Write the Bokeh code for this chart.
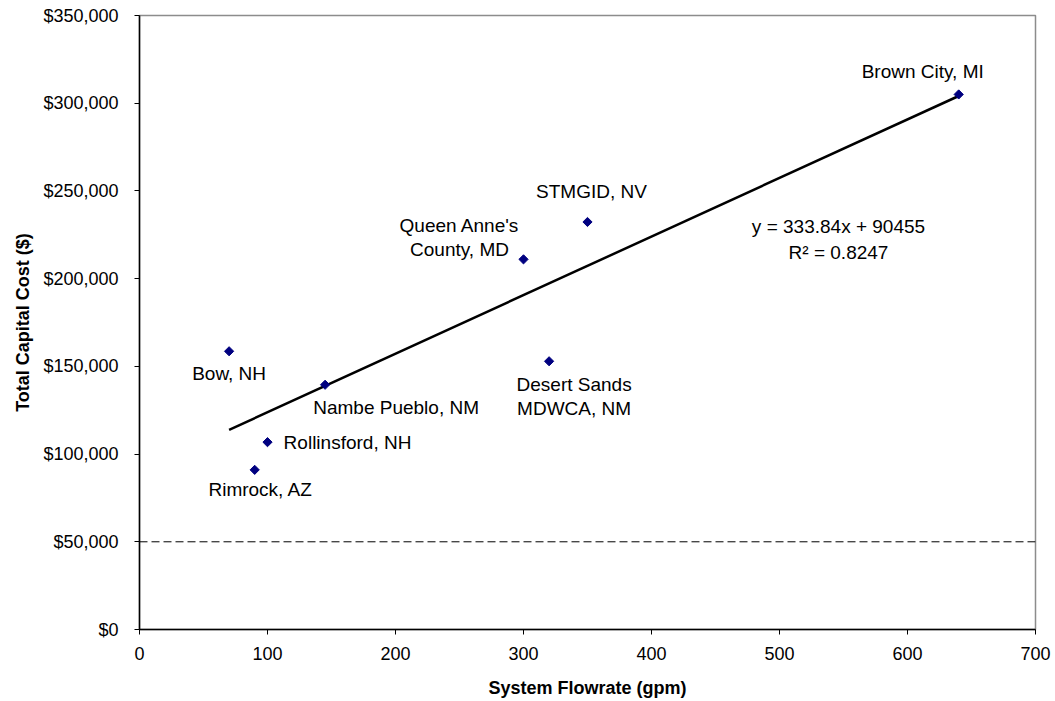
import math
from bokeh.plotting import figure
from bokeh.models import ColumnDataSource, Span, Label, FixedTicker, CustomJSTickFormatter, Range1d
from bokeh.embed import file_html
from bokeh.resources import INLINE
from bokeh.core.properties import value

# ---- data ----
sites = ["Bow, NH", "Nambe Pueblo, NM", "Rollinsford, NH", "Rimrock, AZ",
         "Desert Sands\nMDWCA, NM", "Queen Anne's\nCounty, MD", "STMGID, NV", "Brown City, MI"]
flow_gpm = [70, 145, 100, 90, 320, 300, 350, 640]
capital_cost = [158600, 139500, 106800, 91000, 152900, 211000, 232300, 305000]
slope = 333.84
intercept = 90455
r_squared = 0.8247
limit_cost = 50000
x_ticks = [0, 100, 200, 300, 400, 500, 600, 700]
y_ticks = [0, 50000, 100000, 150000, 200000, 250000, 300000, 350000]

# label offsets (screen px, y down) - layout only
lab_dx = [0, 71, 80, 6, 25, -64, 4, -36]
lab_dy = [22, 23, 0, 20, 35, -22, -30, -23]

FONT = "Liberation Sans"

p = figure(width=1055, height=701, frame_width=896, frame_height=614,
           min_border_left=139, min_border_right=20, min_border_top=15, min_border_bottom=72,
           x_range=Range1d(0, 700), y_range=Range1d(0, 350000),
           output_backend="svg", toolbar_location=None,
           background_fill_color="white", border_fill_color="white")
p.xgrid.visible = False
p.ygrid.visible = False
p.outline_line_color = "#8c8c8c"
p.outline_line_width = 1.5

for ax in (p.xaxis[0], p.yaxis[0]):
    ax.axis_line_color = "black"
    ax.axis_line_width = 1.5
    ax.major_tick_line_color = "black"
    ax.major_tick_line_width = 1
    ax.major_tick_out = 5
    ax.major_tick_in = 0
    ax.minor_tick_line_color = None
    ax.major_label_text_font = FONT
    ax.major_label_text_font_size = "18px"
    ax.major_label_text_color = "black"
    ax.axis_label_text_font = FONT
    ax.axis_label_text_font_size = "18px"
    ax.axis_label_text_font_style = "bold"
    ax.axis_label_text_color = "black"

p.xaxis.ticker = FixedTicker(ticks=x_ticks)
p.yaxis.ticker = FixedTicker(ticks=y_ticks)
p.yaxis.formatter = CustomJSTickFormatter(code="return '$' + tick.toLocaleString('en-US');")
p.xaxis.axis_label = "System Flowrate (gpm)"
p.yaxis.axis_label = "Total Capital Cost ($)"
p.xaxis.major_label_standoff = 12
p.yaxis.major_label_standoff = 16
p.xaxis.axis_label_standoff = 15
p.yaxis.axis_label_standoff = 7

# dashed limit line
p.add_layout(Span(location=limit_cost, dimension="width", line_color="black",
                  line_width=1, line_dash="8 4"))

# trend line
tx = [min(flow_gpm), max(flow_gpm)]
ty = [slope * v + intercept for v in tx]
p.line(tx, ty, line_color="black", line_width=2.5)

src = ColumnDataSource(dict(x=flow_gpm, y=capital_cost, site=sites, dx=lab_dx, dy=lab_dy))
p.scatter("x", "y", source=src, marker="square", angle=math.pi / 4, size=6.5,
          fill_color="#000080", line_color="#000080")
p.text("x", "y", text="site", source=src, x_offset="dx", y_offset="dy",
       text_align="center", text_baseline="middle", text_font=value(FONT),
       text_font_size="19px", text_color="black", text_line_height=1.15)

eq1 = "y = %.2fx + %d" % (slope, intercept)
eq2 = "R\u00b2 = %.4f" % r_squared
p.add_layout(Label(x=699, y=403, x_units="screen", y_units="screen",
                   text=eq1, text_align="center", text_baseline="middle",
                   text_font=FONT, text_font_size="19px", text_color="black"))
p.add_layout(Label(x=699, y=377, x_units="screen", y_units="screen",
                   text=eq2, text_align="center", text_baseline="middle",
                   text_font=FONT, text_font_size="19px", text_color="black"))

open("out.html", "w").write(file_html(p, INLINE))
